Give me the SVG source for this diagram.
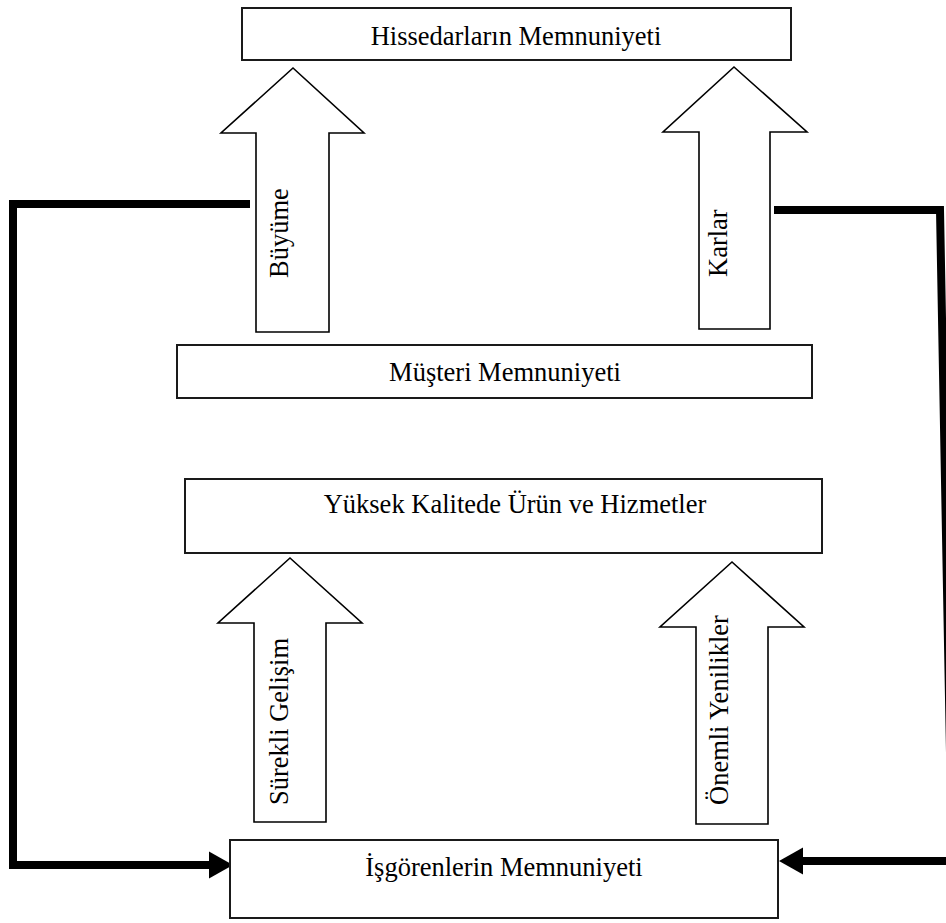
<svg xmlns="http://www.w3.org/2000/svg" width="946" height="923" viewBox="0 0 946 923">
<style>
.box{fill:#fff;stroke:#1a1a1a;stroke-width:2}
.blk{fill:#fff;stroke:#000;stroke-width:1.6;stroke-linejoin:miter}
.lbl{font-family:"Liberation Serif","Times New Roman",serif;font-size:26.5px;fill:#000}
.mid{text-anchor:middle}
.conn{fill:none;stroke:#000;stroke-width:8;stroke-linejoin:miter}
</style>
<defs>
<marker id="ah" markerUnits="userSpaceOnUse" markerWidth="24" markerHeight="28" viewBox="0 -13 23 26" refX="0" refY="0" orient="auto">
<path d="M0,-13 L23,0 L0,13 Z" fill="#000"/>
</marker>
</defs>
<rect width="946" height="923" fill="#fff"/>
<g id="connectors">
<path class="conn" d="M250,204 L13,204 L13,865 L209,865" marker-end="url(#ah)"/>
<path class="conn" d="M774,210 L940,210 L952,861 L803,861" marker-end="url(#ah)"/>
</g>
<g id="hissedar">
<rect class="box" x="242" y="8" width="549" height="52"/>
<text class="lbl mid" x="516" y="45">Hissedarların Memnuniyeti</text>
</g>
<g id="buyume">
<polygon class="blk" points="293,68 364,133 329,133 329,332 256,332 256,133 221,133"/>
<text class="lbl" transform="translate(288,278) rotate(-90)">Büyüme</text>
</g>
<g id="karlar">
<polygon class="blk" points="734,67 807,132 770,132 770,329 699,329 699,132 663,132"/>
<text class="lbl" transform="translate(727,277) rotate(-90)">Karlar</text>
</g>
<g id="musteri">
<rect class="box" x="177" y="345" width="635" height="53"/>
<text class="lbl mid" x="505" y="381">Müşteri Memnuniyeti</text>
</g>
<g id="yuksek">
<rect class="box" x="185" y="479" width="637" height="74"/>
<text class="lbl mid" x="515" y="513">Yüksek Kalitede Ürün ve Hizmetler</text>
</g>
<g id="surekli">
<polygon class="blk" points="290,558 362,623 326,623 326,822 254,822 254,623 218,623"/>
<text class="lbl" transform="translate(288,805) rotate(-90)">Sürekli Gelişim</text>
</g>
<g id="onemli">
<polygon class="blk" points="732,562 804,627 768,627 768,824 696,824 696,627 660,627"/>
<text class="lbl" transform="translate(728,805) rotate(-90)">Önemli Yenilikler</text>
</g>
<g id="isgorenler">
<rect class="box" x="230" y="840" width="548" height="78"/>
<text class="lbl mid" x="504" y="876">İşgörenlerin Memnuniyeti</text>
</g>
</svg>
